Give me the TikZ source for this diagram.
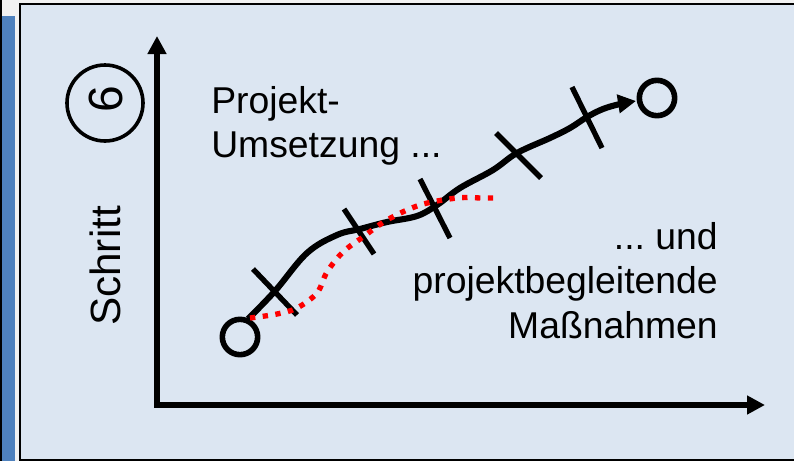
\documentclass[tikz,border=0pt]{standalone}
\usepackage{fontspec}
\setmainfont{Liberation Sans}
\usetikzlibrary{arrows.meta}
\definecolor{panelbg}{HTML}{DCE6F2}
\definecolor{sidebar}{HTML}{4F81BD}
\definecolor{stripbg}{HTML}{F2F2F2}
\tikzset{
  x=0.75pt,y=-0.75pt,
  axisline/.style={line width=4pt,-{Triangle[length=13.5pt,width=13.5pt]}},
  ringmark/.style={circle,draw=black,line width=4.2pt,minimum size=26.5pt,inner sep=0pt},
  crossmark/.style={line width=4pt},
  mainpath/.style={line width=4.6pt,line join=round,-{Triangle[length=13.5pt,width=13.5pt]}},
  redpath/.style={red,line width=4pt,dash pattern=on 4pt off 5.6pt},
  lbl/.style={font=\frenchspacing\fontsize{28pt}{33pt}\selectfont,inner sep=0pt,text=black},
}
\begin{document}
\begin{tikzpicture}
\useasboundingbox (0,0) rectangle (794,461);
\fill[stripbg] (0,0) rectangle (794,461);
\fill[black] (0,0) rectangle (2,461);
\fill[sidebar] (2,16) rectangle (15,461);
\filldraw[fill=panelbg,draw=black,line width=1.6pt] (20,4) rectangle (800,460);
% axes
\coordinate (o) at (157,405);
\coordinate (ytop) at (157,36);
\coordinate (xend) at (765,405);
\draw[axisline] (o) -- (ytop);
\draw[axisline] ([xshift=-2pt]o) -- (xend);
% rings
\node[ringmark] (start) at (240,337) {};
\node[ringmark] (finish) at (657,98) {};
% crosses
\foreach \n/\ax/\ay/\bx/\by in {c1/253/269/297/315,c2/344/209/374/254,c3/420/179/450/238,c4/496/133/541/178,c5/572/87/602/148}{
  \coordinate (\n a) at (\ax,\ay);
  \coordinate (\n b) at (\bx,\by);
  \draw[crossmark] (\n a) -- (\n b);
}
% main path
\draw[mainpath] plot[smooth,tension=0.6] coordinates {(248,319) (275,291) (307,253) (337,235) (360,229) (387,222) (417,216) (437,205) (460,188) (493,170) (517,153) (550,138) (570,128) (587,117) (603,109) (620,104) (636,101)};
% red dotted path
\draw[redpath] plot[smooth,tension=0.55] coordinates {(250,318) (277,314) (297,308) (317,293) (327,272) (343,252) (363,237) (387,220) (420,205) (457,198) (482,198) (494,198)};
% texts
\node[lbl,anchor=base west] (t1) at (211,113) {Projekt-};
\node[lbl,anchor=base west] (t2) at (211,157) {Umsetzung ...};
\node[lbl,anchor=base east] (t3) at (718,249) {... und};
\node[lbl,anchor=base east] (t4) at (718,293) {projektbegleitende};
\node[lbl,anchor=base east] (t5) at (718,338) {Maßnahmen};
\node[lbl,font=\fontsize{31.7pt}{33pt}\selectfont,rotate=90,anchor=base] (schritt) at (120,266) {Schritt};
\node[circle,draw=black,line width=2.7pt,minimum size=57pt,inner sep=0pt] (six) at (105,103) {};
\node[lbl,font=\fontsize{36pt}{36pt}\selectfont,rotate=90,anchor=base] (sixt) at (122,99) {6};
\end{tikzpicture}
\end{document}
